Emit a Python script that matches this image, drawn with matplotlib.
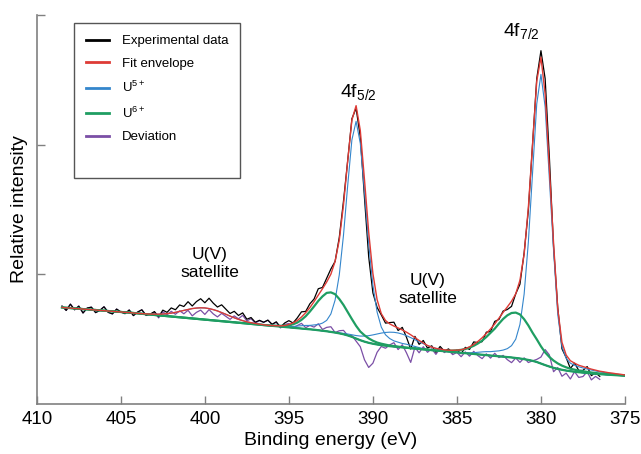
import matplotlib.pyplot as plt
from matplotlib.lines import Line2D
import numpy as np

plt.rcParams['font.family'] = ['Liberation Sans', 'DejaVu Sans']
plt.rcParams['mathtext.fontset'] = 'custom'
plt.rcParams['mathtext.rm'] = 'Liberation Sans'
plt.rcParams['mathtext.it'] = 'Liberation Sans:italic'
plt.rcParams['mathtext.default'] = 'regular'

# binding energy grid (eV)
energy = [
    408.5, 408.25, 408.0, 407.75, 407.5, 407.25, 407.0, 406.75,
    406.5, 406.25, 406.0, 405.75, 405.5, 405.25, 405.0, 404.75,
    404.5, 404.25, 404.0, 403.75, 403.5, 403.25, 403.0, 402.75,
    402.5, 402.25, 402.0, 401.75, 401.5, 401.25, 401.0, 400.75,
    400.5, 400.25, 400.0, 399.75, 399.5, 399.25, 399.0, 398.75,
    398.5, 398.25, 398.0, 397.75, 397.5, 397.25, 397.0, 396.75,
    396.5, 396.25, 396.0, 395.75, 395.5, 395.25, 395.0, 394.75,
    394.5, 394.25, 394.0, 393.75, 393.5, 393.25, 393.0, 392.75,
    392.5, 392.25, 392.0, 391.75, 391.5, 391.25, 391.0, 390.75,
    390.5, 390.25, 390.0, 389.75, 389.5, 389.25, 389.0, 388.75,
    388.5, 388.25, 388.0, 387.75, 387.5, 387.25, 387.0, 386.75,
    386.5, 386.25, 386.0, 385.75, 385.5, 385.25, 385.0, 384.75,
    384.5, 384.25, 384.0, 383.75, 383.5, 383.25, 383.0, 382.75,
    382.5, 382.25, 382.0, 381.75, 381.5, 381.25, 381.0, 380.75,
    380.5, 380.25, 380.0, 379.75, 379.5, 379.25, 379.0, 378.75,
    378.5, 378.25, 378.0, 377.75, 377.5, 377.25, 377.0, 376.75,
    376.5, 376.25, 376.0, 375.75, 375.5, 375.25, 375.0,
]

# Shirley type background (same grid)
background = [
    0.745, 0.742, 0.740, 0.737, 0.735, 0.732, 0.730, 0.727,
    0.725, 0.722, 0.720, 0.717, 0.715, 0.712, 0.710, 0.707,
    0.705, 0.702, 0.699, 0.696, 0.693, 0.690, 0.687, 0.684,
    0.681, 0.678, 0.675, 0.672, 0.669, 0.666, 0.663, 0.660,
    0.657, 0.654, 0.651, 0.648, 0.645, 0.642, 0.639, 0.636,
    0.633, 0.630, 0.627, 0.624, 0.621, 0.618, 0.615, 0.612,
    0.609, 0.606, 0.603, 0.600, 0.597, 0.594, 0.591, 0.588,
    0.585, 0.582, 0.579, 0.576, 0.573, 0.569, 0.565, 0.561,
    0.556, 0.551, 0.545, 0.538, 0.529, 0.518, 0.505, 0.492,
    0.481, 0.472, 0.465, 0.459, 0.454, 0.450, 0.446, 0.443,
    0.440, 0.437, 0.434, 0.431, 0.428, 0.425, 0.422, 0.419,
    0.416, 0.413, 0.410, 0.407, 0.404, 0.401, 0.398, 0.395,
    0.392, 0.389, 0.386, 0.383, 0.380, 0.377, 0.374, 0.371,
    0.368, 0.365, 0.362, 0.359, 0.355, 0.351, 0.346, 0.340,
    0.333, 0.324, 0.312, 0.300, 0.289, 0.279, 0.271, 0.264,
    0.258, 0.253, 0.249, 0.245, 0.242, 0.239, 0.236, 0.233,
    0.230, 0.228, 0.226, 0.224, 0.222, 0.220, 0.218,
]

# measured minus fit (408.5 -> 376.5 eV)
residual = [
    0.01, -0.02, 0.03, -0.01, 0.02, -0.03, 0.01, 0.02,
    -0.02, 0.00, 0.03, -0.01, -0.02, 0.02, 0.00, -0.01,
    0.02, -0.02, 0.01, 0.03, -0.01, 0.00, 0.02, -0.02,
    0.03, 0.01, 0.04, 0.02, 0.05, 0.03, 0.06, 0.02,
    0.05, 0.07, 0.04, 0.08, 0.05, 0.03, 0.06, 0.04,
    0.02, 0.05, 0.03, 0.06, 0.02, 0.04, 0.01, 0.03,
    0.02, 0.04, 0.01, 0.03, -0.01, 0.02, 0.03, 0.00,
    0.02, 0.04, 0.01, 0.03, 0.02, 0.05, 0.01, 0.03,
    0.04, 0.00, 0.02, 0.03, 0.00, 0.01, -0.02, -0.05,
    -0.14, -0.19, -0.15, -0.06, -0.01, -0.02, 0.01, 0.03,
    -0.02, 0.02, -0.04, -0.11, 0.01, -0.03, 0.02, -0.02,
    0.01, -0.03, 0.02, -0.01, 0.01, -0.02, 0.00, -0.03,
    0.01, -0.02, 0.02, -0.01, -0.03, 0.01, -0.02, 0.02,
    -0.01, 0.01, -0.02, -0.04, 0.00, -0.03, 0.01, -0.02,
    0.00, 0.02, 0.05, 0.12, 0.09, -0.03, 0.01, -0.05,
    -0.02, -0.06, 0.00, -0.04, -0.03, 0.01, -0.05, -0.02,
    -0.04,
]

# fitted components, height above background, starting at given energy
u5_72_start = 384.5
u5_72 = [
    0.003, 0.006, 0.010, 0.016, 0.022, 0.027, 0.030, 0.036,
    0.042, 0.051, 0.065, 0.091, 0.145, 0.263, 0.502, 0.908,
    1.454, 1.991, 2.230, 1.991, 1.454, 0.908, 0.420, 0.180,
    0.095, 0.062, 0.050, 0.042, 0.036, 0.031, 0.026, 0.022,
    0.018, 0.015, 0.012, 0.010, 0.008, 0.006, 0.004,
]
u5_52_start = 395.0
u5_52 = [
    0.005, 0.010, 0.016, 0.022, 0.027, 0.030, 0.037, 0.044,
    0.059, 0.084, 0.139, 0.250, 0.451, 0.764, 1.156, 1.519,
    1.675,
    1.519, 1.156, 0.764, 0.451, 0.250, 0.139, 0.084, 0.059,
    0.044, 0.037, 0.030, 0.027, 0.022, 0.016, 0.010, 0.005,
]
sat1_start = 403.75
sat1 = [
    0.001, 0.002, 0.0035, 0.006, 0.009, 0.013, 0.019, 0.026,
    0.035, 0.045, 0.056, 0.066, 0.076, 0.083, 0.088, 0.090,
    0.088, 0.083, 0.076, 0.066, 0.056, 0.045, 0.035, 0.026,
    0.019, 0.013, 0.009, 0.006, 0.0035, 0.002, 0.001,
]
sat2_start = 392.5
sat2 = [
    0.0015, 0.0025, 0.004, 0.007, 0.011, 0.016, 0.023, 0.032,
    0.043, 0.055, 0.068, 0.081, 0.093, 0.102, 0.108, 0.110,
    0.108, 0.102, 0.093, 0.081, 0.068, 0.055, 0.043, 0.032,
    0.023, 0.016, 0.011, 0.007, 0.004, 0.0025, 0.0015,
]
u6_72_start = 386.0
u6_72 = [
    0.003, 0.004, 0.007, 0.011, 0.016, 0.023, 0.032, 0.046,
    0.063, 0.084, 0.109, 0.140, 0.175, 0.210, 0.252, 0.291,
    0.322, 0.343, 0.350, 0.340, 0.308, 0.266, 0.217, 0.175,
    0.133, 0.098, 0.074, 0.056, 0.042, 0.032, 0.025, 0.019,
    0.016, 0.012, 0.011, 0.009, 0.007, 0.006, 0.005, 0.005,
    0.004, 0.004, 0.003, 0.003, 0.002,
]
u6_52_start = 396.0
u6_52 = [
    0.002, 0.004, 0.006, 0.011, 0.017, 0.027, 0.043, 0.067,
    0.098, 0.137, 0.180, 0.226, 0.265, 0.296, 0.305, 0.296,
    0.265, 0.226, 0.180, 0.137, 0.098, 0.067, 0.049, 0.034,
    0.023, 0.015, 0.011, 0.008, 0.005, 0.004, 0.002, 0.002,
]

xticks = [410, 405, 400, 395, 390, 385, 380, 375]


def pad(start, values):
    full = np.zeros(len(energy))
    i0 = energy.index(start)
    full[i0:i0 + len(values)] = values
    return full


E = np.array(energy)
bg = np.array(background)
u5_parts = [pad(u5_72_start, u5_72), pad(u5_52_start, u5_52),
            pad(sat1_start, sat1), pad(sat2_start, sat2)]
u6_parts = [pad(u6_72_start, u6_72), pad(u6_52_start, u6_52)]
envelope = bg + sum(u5_parts) + sum(u6_parts)

n = len(residual)
res = np.array(residual)
measured = envelope[:n] + res
deviation = bg[:n] + res

c_exp = 'black'
c_fit = '#de3b36'
c_u5 = '#3486cc'
c_u6 = '#1f9e62'
c_dev = '#7b4fa6'

fig = plt.figure(figsize=(6.41, 4.54), dpi=100)
ax = fig.add_axes([0.0574, 0.1101, 0.9176, 0.8568])

ax.plot(E, bg, color='#8a7f98', lw=0.9)
ax.plot(E[:n], deviation, color=c_dev, lw=0.9)
ax.plot(E[:n], measured, color=c_exp, lw=0.9)
for part in u5_parts:
    ax.plot(E, bg + part, color=c_u5, lw=0.8)
for part in u6_parts:
    ax.plot(E, bg + part, color=c_u6, lw=1.6)
ax.plot(E, envelope, color=c_fit, lw=1.0)

# peak labels
ax.text(391.96, 2.37, r'4f$_{5/2}$', fontsize=14, ha='left', va='baseline')
ax.text(382.27, 2.84, r'4f$_{7/2}$', fontsize=14, ha='left', va='baseline')
ax.text(399.7, 1.08, 'U(V)\nsatellite', fontsize=12.5, ha='center', va='center',
        multialignment='center', linespacing=1.25)
ax.text(386.73, 0.88, 'U(V)\nsatellite', fontsize=12.5, ha='center', va='center',
        multialignment='center', linespacing=1.25)

ax.set_xlim(410, 375)
ax.set_ylim(0, 3)
ax.set_xticks(xticks)
ax.set_xticklabels([str(t) for t in xticks])
ax.set_yticks([1, 2, 3])
ax.set_yticklabels([])
ax.tick_params(direction='in', length=6, width=1, color='#808080',
               labelsize=13.5, pad=5)
for side in ['top', 'right']:
    ax.spines[side].set_visible(False)
for side in ['left', 'bottom']:
    ax.spines[side].set_color('#808080')
    ax.spines[side].set_linewidth(1.2)

ax.set_xlabel('Binding energy (eV)', fontsize=14, labelpad=3)
ax.set_ylabel('Relative intensity', fontsize=14, labelpad=1)

handles = [
    Line2D([], [], color=c_exp, lw=2),
    Line2D([], [], color=c_fit, lw=2),
    Line2D([], [], color=c_u5, lw=2),
    Line2D([], [], color=c_u6, lw=2),
    Line2D([], [], color=c_dev, lw=2),
    Line2D([], [], color='none', lw=2),
]
labels = ['Experimental data', 'Fit envelope', r'U$^{5+}$', r'U$^{6+}$',
          'Deviation', ' ']
leg = ax.legend(handles, labels, loc='upper left', bbox_to_anchor=(0.064, 0.979),
                borderaxespad=0, fontsize=9.5, frameon=True, fancybox=False,
                framealpha=1, edgecolor='#555555', handlelength=1.7,
                handletextpad=1.0, labelspacing=0.78, borderpad=0.9)
leg.get_frame().set_linewidth(1.0)

fig.savefig('out.png', dpi=100)
